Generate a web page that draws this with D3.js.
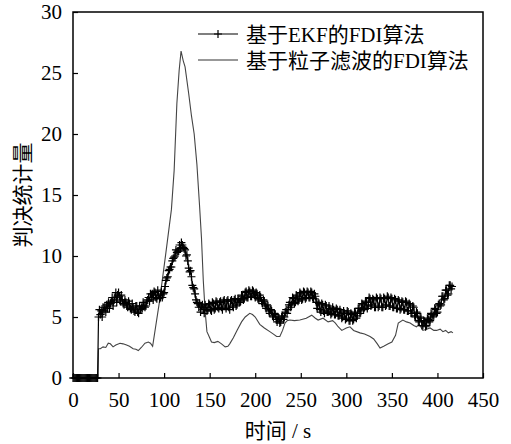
<!DOCTYPE html>
<html>
<head>
<meta charset="utf-8">
<script src="https://cdn.jsdelivr.net/npm/d3@7"></script>
<style>
  body { margin: 0; background: #fff; }
  svg text { font-family: "Liberation Serif", "Noto Sans CJK SC", serif; fill: #000; }
</style>
</head>
<body>
<div class="chart"></div>
<script>
var svgWidth = 511;
var svgHeight = 444;
var margin = { top: 12, right: 28, bottom: 66, left: 73 };
var width = svgWidth - margin.left - margin.right;
var height = svgHeight - margin.top - margin.bottom;

var xTicks = [0, 50, 100, 150, 200, 250, 300, 350, 400, 450];
var yTicks = [0, 5, 10, 15, 20, 25, 30];
var seriesNames = ["基于EKF的FDI算法", "基于粒子滤波的FDI算法"];

// EKF statistic, one sample per second from t = 0 (20 values per row)
var ekfStep = 1;
var ekfValues = [
  0, 0, 0, 0, 0, 0, 0, 0, 0, 0, 0, 0, 0, 0, 0, 0, 0, 0, 0, 0,
  0, 0, 0, 0, 0, 0, 0, 0, 5.0, 5.6, 5.2, 5.5, 5.0, 5.8, 5.5, 5.9, 5.4, 6.0, 5.7, 6.2,
  5.7, 6.1, 6.3, 6.6, 5.9, 6.4, 6.6, 7.0, 6.2, 6.8, 7.0, 6.7, 6.3, 6.8, 6.4, 6.1, 6.0, 6.4, 6.2, 5.9,
  5.8, 6.3, 6.1, 5.7, 5.6, 6.1, 5.8, 5.5, 5.4, 5.9, 5.9, 5.4, 5.3, 5.9, 5.6, 5.8, 5.7, 6.2, 5.9, 5.8,
  5.9, 6.3, 6.4, 6.6, 6.3, 6.9, 6.6, 6.9, 6.4, 7.1, 7.0, 6.6, 6.5, 7.2, 6.8, 6.5, 6.6, 7.1, 6.6, 6.9,
  7.0, 7.5, 8.0, 8.2, 8.3, 8.8, 8.9, 9.1, 9.1, 9.6, 9.8, 9.9, 10.0, 10.5, 10.3, 10.4, 10.4, 10.9, 10.6, 11.1,
  10.9, 10.7, 10.6, 10.5, 10.0, 10.1, 9.6, 9.0, 8.7, 8.8, 8.3, 7.6, 7.4, 7.3, 6.9, 6.4, 6.2, 6.1, 5.8, 6.1,
  5.4, 5.9, 6.0, 5.6, 5.3, 6.0, 5.8, 5.5, 5.6, 6.1, 6.0, 5.6, 5.5, 6.2, 6.1, 5.6, 5.7, 6.3, 6.2, 5.8,
  5.7, 6.2, 6.3, 5.8, 5.6, 6.3, 6.4, 5.9, 5.7, 6.3, 6.4, 5.8, 5.6, 6.3, 6.4, 5.9, 5.8, 6.4, 6.5, 5.9,
  6.0, 6.5, 6.4, 6.2, 6.3, 6.8, 6.7, 6.4, 6.5, 7.0, 7.1, 6.6, 6.6, 7.2, 7.1, 6.7, 6.7, 7.2, 7.1, 6.8,
  6.6, 7.0, 6.9, 6.5, 6.4, 6.8, 6.6, 6.3, 6.1, 6.4, 6.3, 5.9, 5.7, 6.0, 5.9, 5.5, 5.3, 5.6, 5.5, 5.1,
  5.0, 5.3, 5.2, 4.8, 4.6, 5.0, 4.9, 4.5, 4.6, 5.0, 5.1, 4.8, 5.0, 5.4, 5.6, 5.3, 5.6, 6.0, 6.2, 5.8,
  6.0, 6.6, 6.5, 6.1, 6.2, 6.8, 6.7, 6.3, 6.4, 7.0, 6.9, 6.4, 6.5, 7.1, 7.0, 6.5, 6.6, 7.1, 7.0, 6.6,
  6.6, 7.1, 7.0, 6.6, 6.5, 6.9, 6.7, 6.2, 5.7, 6.2, 6.1, 5.6, 5.4, 6.1, 6.0, 5.5, 5.3, 6.0, 5.9, 5.4,
  5.4, 5.9, 5.7, 5.2, 5.3, 5.8, 5.6, 5.2, 5.2, 5.7, 5.6, 5.1, 5.1, 5.6, 5.4, 4.9, 5.0, 5.5, 5.3, 4.8,
  4.9, 5.5, 5.4, 4.7, 4.7, 5.3, 5.2, 4.7, 4.8, 5.4, 5.3, 4.9, 5.1, 5.7, 5.7, 5.3, 5.5, 6.1, 6.0, 5.6,
  5.8, 6.3, 6.2, 5.7, 5.9, 6.6, 6.5, 5.9, 6.0, 6.5, 6.4, 5.8, 5.8, 6.6, 6.5, 5.8, 5.9, 6.6, 6.5, 5.8,
  5.8, 6.6, 6.5, 5.9, 6.0, 6.7, 6.6, 5.9, 5.9, 6.6, 6.5, 5.8, 5.8, 6.5, 6.4, 5.7, 5.7, 6.4, 6.3, 5.6,
  5.7, 6.3, 6.2, 5.6, 5.6, 6.3, 6.2, 5.5, 5.5, 6.1, 6.0, 5.3, 5.3, 5.9, 5.8, 5.1, 5.0, 5.4, 5.3, 4.7,
  4.6, 5.0, 4.9, 4.3, 4.3, 4.7, 4.6, 4.2, 4.3, 4.9, 4.8, 4.6, 4.7, 5.3, 5.2, 5.0, 5.1, 5.7, 5.6, 5.3,
  5.4, 6.0, 6.1, 5.9, 6.0, 6.7, 6.7, 6.4, 6.5, 7.2, 7.2, 6.8, 6.9, 7.6, 7.6, 7.3, 7.5
];

// particle filter statistic, read at uneven times
var pfTimes = [
  0, 27.5, 28, 30, 33, 36, 38.7, 41, 44, 47, 51.6, 55, 58.8, 62, 66, 69, 71.7, 75, 79, 82.7, 85, 87.4,
  95, 102, 108, 111, 114, 116.5, 118.6, 121, 123, 127, 130, 133, 136, 139, 141, 143, 145, 147, 150,
  152, 155, 159, 163, 167, 170, 172, 176, 180, 185, 189, 194, 197, 200, 205, 210, 216, 220, 223.5,
  227, 230, 232.7, 235, 238, 243, 249, 256, 262, 266, 269, 274.5, 280, 285, 288, 291, 295, 300, 304,
  308, 315, 320, 326, 330, 334, 337, 341, 346, 350, 354, 357, 362, 366, 370, 374, 377, 380, 384,
  388, 392, 396, 399, 403, 406, 409, 412, 415, 417
];
var pfValues = [
  0, 0, 2.4, 2.4, 2.55, 2.5, 2.85, 2.8, 2.55, 2.7, 2.85, 2.8, 2.7, 2.6, 2.4, 2.35, 2.25, 2.5, 2.85, 2.95, 2.85, 2.6,
  6.3, 10.3, 13.8, 17.0, 22.5, 25.2, 26.8, 26.0, 25.5, 23.3, 21.5, 20.0, 17.5, 14.0, 11.5, 8.0, 5.5, 3.8, 3.3,
  2.95, 2.9, 3.0, 2.8, 2.55, 2.6, 2.8, 3.3, 3.9, 4.6, 5.0, 5.3, 5.2, 5.0, 4.4, 4.1, 3.8, 3.6, 3.4,
  3.4, 3.9, 4.5, 4.7, 4.75, 4.7, 4.75, 4.9, 5.15, 4.9, 4.75, 4.9, 4.6, 4.7, 4.5, 4.2, 3.9, 4.1, 4.2,
  3.9, 3.7, 3.6, 3.4, 3.2, 2.8, 2.45, 2.6, 2.8, 2.95, 3.5, 4.5, 4.75, 4.6, 4.5, 4.3, 4.2, 4.4, 3.9,
  4.0, 4.1, 3.9, 3.9, 4.0, 3.8, 3.9, 3.7, 3.8, 3.7
];

var ekfData = ekfValues.map(function(v, i) { return { t: i * ekfStep, v: v }; });
var pfData = pfTimes.map(function(t, i) { return { t: t, v: pfValues[i] }; });

var svg = d3.select(".chart").append("svg")
  .attr("width", svgWidth)
  .attr("height", svgHeight);

var chart = svg.append("g")
  .attr("transform", "translate(" + margin.left + "," + margin.top + ")");

var xScale = d3.scaleLinear().domain([0, 450]).range([0, width]);
var yScale = d3.scaleLinear().domain([0, 30]).range([height, 0]);

var line = d3.line()
  .x(function(d) { return xScale(d.t); })
  .y(function(d) { return yScale(d.v); });

// PF line (thin grey)
chart.append("path")
  .datum(pfData)
  .attr("fill", "none")
  .attr("stroke", "#444")
  .attr("stroke-width", 1.1)
  .attr("d", line);

// EKF line with + markers
chart.append("path")
  .datum(ekfData)
  .attr("fill", "none")
  .attr("stroke", "#000")
  .attr("stroke-width", 1.2)
  .attr("d", line);

var plusPath = "M-4,0H4M0,-4V4";
chart.append("g").selectAll("path")
  .data(ekfData)
  .enter()
  .append("path")
  .attr("transform", function(d) {
    return "translate(" + xScale(d.t) + "," + yScale(d.v) + ")";
  })
  .attr("d", plusPath)
  .attr("stroke", "#000")
  .attr("stroke-width", 1.2);

// axes, ticks pointing inward
var bottomAxis = d3.axisBottom(xScale).tickValues(xTicks).tickSizeInner(-5).tickSizeOuter(0).tickPadding(14);
var leftAxis = d3.axisLeft(yScale).tickValues(yTicks).tickSizeInner(-5).tickSizeOuter(0).tickPadding(11);

var gx = chart.append("g")
  .attr("transform", "translate(0," + height + ")")
  .call(bottomAxis);
var gy = chart.append("g").call(leftAxis);

[gx, gy].forEach(function(g) {
  g.select(".domain").remove();
  g.selectAll("line").attr("stroke", "#000").attr("stroke-width", 1.2);
  g.selectAll("text")
    .style("font-size", "21px")
    .style("font-family", "'Liberation Serif', serif");
});

chart.append("rect")
  .attr("width", width)
  .attr("height", height)
  .attr("fill", "none")
  .attr("stroke", "#000")
  .attr("stroke-width", 1.5);

// axis titles
chart.append("text")
  .attr("x", width / 2)
  .attr("y", height + 60)
  .attr("text-anchor", "middle")
  .style("font-size", "21px")
  .text("时间 / s");

chart.append("text")
  .attr("transform", "translate(" + (-50) + "," + (195 - margin.top) + ") rotate(-90)")
  .attr("text-anchor", "middle")
  .attr("dy", "0.35em")
  .style("font-size", "21px")
  .style("font-family", "'Noto Sans CJK SC', sans-serif")
  .text("判决统计量");

// legend
var legend = chart.append("g").attr("transform", "translate(" + (198 - margin.left) + "," + (34 - margin.top) + ")");
var legendRows = legend.selectAll("g")
  .data(seriesNames)
  .enter()
  .append("g")
  .attr("transform", function(d, i) { return "translate(0," + i * 26 + ")"; });

legendRows.append("line")
  .attr("x1", 0).attr("x2", 40)
  .attr("y1", 0).attr("y2", 0)
  .attr("stroke", function(d, i) { return i === 0 ? "#000" : "#333"; })
  .attr("stroke-width", 1.2);

legendRows.filter(function(d, i) { return i === 0; })
  .append("path")
  .attr("transform", "translate(20,0)")
  .attr("d", plusPath)
  .attr("stroke", "#000")
  .attr("stroke-width", 1.2);

legendRows.append("text")
  .attr("x", 48)
  .attr("dy", "0.36em")
  .style("font-size", "21px")
  .text(function(d) { return d; });
</script>
</body>
</html>
